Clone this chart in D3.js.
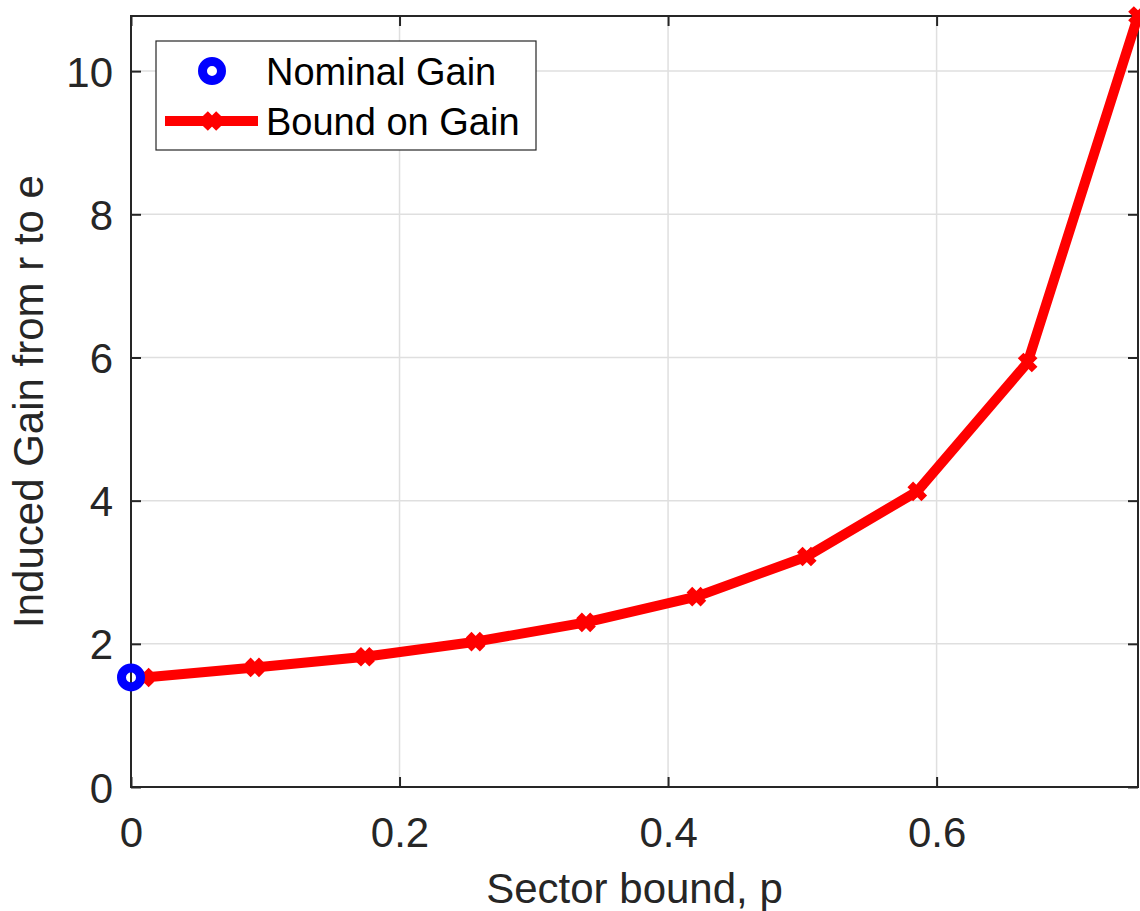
<!DOCTYPE html>
<html>
<head>
<meta charset="utf-8">
<script src="https://cdn.jsdelivr.net/npm/d3@7"></script>
<style>
 body { margin: 0; background: #fff; }
 text { font-family: "Liberation Sans", Arial, sans-serif; }
</style>
</head>
<body>
<script>
 // *** data
 var sectorBound = [0.01, 0.0922, 0.1744, 0.2567, 0.3389, 0.4211, 0.5033, 0.5856, 0.6678, 0.75];
 var gainBound = [1.53, 1.67, 1.82, 2.03, 2.30, 2.66, 3.22, 4.13, 5.93, 10.77];
 var nominalX = [0];
 var nominalGain = [1.53];
 var xTicks = [0, 0.2, 0.4, 0.6];
 var yTicks = [0, 2, 4, 6, 8, 10];

 var width = 1140
 var height = 911
 var plotLeft = 131, plotRight = 1138, plotTop = 16, plotBottom = 787
 var axisColor = '#262626'

 var svg = d3.select('body')
  .append('svg')
  .attr('width', width)
  .attr('height', height);

 var xScale = d3.scaleLinear().domain([0, 0.75]).range([plotLeft, plotRight])
 var yScale = d3.scaleLinear().domain([0, 10.77]).range([plotBottom, plotTop])

 // grid
 svg.append('g').selectAll('line')
  .data(xTicks.slice(1))
  .enter().append('line')
  .attr('x1', d => xScale(d)).attr('x2', d => xScale(d))
  .attr('y1', plotTop).attr('y2', plotBottom)
  .attr('stroke', '#dfdfdf').attr('stroke-width', 1.5);
 svg.append('g').selectAll('line')
  .data(yTicks.slice(1))
  .enter().append('line')
  .attr('y1', d => yScale(d)).attr('y2', d => yScale(d))
  .attr('x1', plotLeft).attr('x2', plotRight)
  .attr('stroke', '#dfdfdf').attr('stroke-width', 1.5);

 // box
 svg.append('rect')
  .attr('x', plotLeft).attr('y', plotTop)
  .attr('width', plotRight - plotLeft).attr('height', plotBottom - plotTop)
  .attr('fill', 'none').attr('stroke', axisColor).attr('stroke-width', 2);

 // axes (ticks inward, on all four sides)
 var xAxis = d3.axisBottom(xScale).tickValues(xTicks).tickSize(-10).tickFormat(d3.format('~g'));
 var yAxis = d3.axisLeft(yScale).tickValues(yTicks).tickSize(-10).tickPadding(18).tickFormat(d3.format('~g'));

 var gx = svg.append('g').attr('transform', 'translate(0,' + plotBottom + ')').call(xAxis);
 var gy = svg.append('g').attr('transform', 'translate(' + plotLeft + ',0)').call(yAxis);
 svg.append('g').attr('transform', 'translate(0,' + plotTop + ')')
  .call(d3.axisTop(xScale).tickValues(xTicks).tickSize(-10).tickFormat(''));
 svg.append('g').attr('transform', 'translate(' + plotRight + ',0)')
  .call(d3.axisRight(yScale).tickValues(yTicks).tickSize(-10).tickFormat(''));

 svg.selectAll('.domain').remove();
 svg.selectAll('.tick line').attr('stroke', axisColor).attr('stroke-width', 2);

 gx.selectAll('text')
  .attr('y', 60).attr('dy', null)
  .attr('fill', axisColor).style('font-size', '42px');
 gy.selectAll('text')
  .attr('dy', '0.36em')
  .attr('fill', axisColor).style('font-size', '42px');

 // line + markers
 var pts = sectorBound.map((d, i) => [d, gainBound[i]]);
 var line = d3.line().x(d => xScale(d[0])).y(d => yScale(d[1]));

 svg.append('path')
  .datum(pts)
  .attr('d', line)
  .attr('fill', 'none')
  .attr('stroke', 'red')
  .attr('stroke-width', 10)
  .attr('stroke-linejoin', 'round');

 // thick 'x' marker
 function xMarker(g, cx, cy) {
  var s = 7
  g.append('path')
   .attr('d', 'M' + (cx - s) + ',' + (cy - s) + 'L' + (cx + s) + ',' + (cy + s) +
    'M' + (cx - s) + ',' + (cy + s) + 'L' + (cx + s) + ',' + (cy - s))
   .attr('stroke', 'red').attr('stroke-width', 8).attr('fill', 'none');
 }
 var mg = svg.append('g');
 pts.forEach(d => xMarker(mg, xScale(d[0]), yScale(d[1])));

 // nominal point
 svg.append('g').selectAll('circle')
  .data(nominalX)
  .enter().append('circle')
  .attr('cx', d => xScale(d))
  .attr('cy', (d, i) => yScale(nominalGain[i]))
  .attr('r', 9.5)
  .attr('fill', 'none')
  .attr('stroke', 'blue')
  .attr('stroke-width', 9);

 // labels
 svg.append('text')
  .attr('x', (plotLeft + plotRight) / 2).attr('y', 903)
  .attr('text-anchor', 'middle')
  .attr('fill', axisColor)
  .style('font-size', '42px')
  .text('Sector bound, p');

 svg.append('text')
  .attr('transform', 'translate(43,' + (plotTop + plotBottom) / 2 + ') rotate(-90)')
  .attr('text-anchor', 'middle')
  .attr('fill', axisColor)
  .style('font-size', '42px')
  .text('Induced Gain from r to e');

 // legend
 var lg = svg.append('g');
 lg.append('rect')
  .attr('x', 156).attr('y', 41).attr('width', 380).attr('height', 109)
  .attr('fill', 'white').attr('stroke', axisColor).attr('stroke-width', 1.2);
 lg.append('circle')
  .attr('cx', 212).attr('cy', 71).attr('r', 9.5)
  .attr('fill', 'none').attr('stroke', 'blue').attr('stroke-width', 9);
 lg.append('line')
  .attr('x1', 165).attr('x2', 258).attr('y1', 121).attr('y2', 121)
  .attr('stroke', 'red').attr('stroke-width', 10);
 xMarker(lg, 212, 121);
 lg.append('text').attr('x', 266).attr('y', 85)
  .style('font-size', '38px').attr('fill', 'black').text('Nominal Gain');
 lg.append('text').attr('x', 266).attr('y', 135)
  .style('font-size', '38px').attr('fill', 'black').text('Bound on Gain');
</script>
</body>
</html>
